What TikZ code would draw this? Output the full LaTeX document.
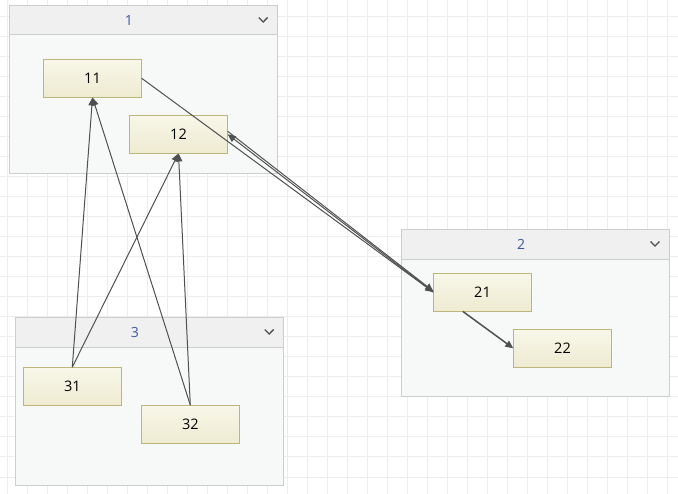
\documentclass[tikz,border=0pt]{standalone}
\usepackage{fontspec}
\setmainfont{Open Sans}
\usetikzlibrary{calc}
\usetikzlibrary{arrows.meta}
\definecolor{gridgray}{HTML}{EDEDED}
\definecolor{framegray}{HTML}{CDCDCD}
\definecolor{headgray}{HTML}{F0F0F0}
\definecolor{bodygray}{HTML}{F7F9F9}
\definecolor{itemtop}{HTML}{F8F7E9}
\definecolor{itembottom}{HTML}{EEEBD1}
\definecolor{itemline}{HTML}{BDB57A}
\definecolor{titleblue}{HTML}{3A5A9C}
\definecolor{linkgray}{HTML}{505050}
\tikzset{
  groupbox/.style={draw=framegray, fill=bodygray, line width=1pt},
  grouphead/.style={draw=framegray, fill=headgray, line width=1pt},
  grouptitle/.style={text=titleblue, font=\fontsize{14}{16}\selectfont},
  chevron/.style={draw=linkgray, line width=1.3pt},
  item/.style={draw=itemline, top color=itemtop, bottom color=itembottom,
    minimum width=98pt, minimum height=38pt, inner sep=0pt,
    font=\fontsize{14.5}{16}\selectfont},
  link/.style={draw=linkgray, line width=1pt, ->}
}

\begin{document}
\begin{tikzpicture}[x=1pt, y=-1pt, >={Triangle[length=8pt,width=7pt]}]
  \useasboundingbox (0,0) rectangle (678,494);
  % grid
  \foreach \x in {7,27,...,667} \draw[gridgray, line width=1pt] (\x,0) -- (\x,494);
  \foreach \y in {17,37,...,477} \draw[gridgray, line width=1pt] (0,\y) -- (678,\y);

  % group 1
  \draw[groupbox] (9.5,5.5) rectangle (277.5,173.5);
  \draw[grouphead] (9.5,5.5) rectangle (277.5,35);
  \node[grouptitle] (title1) at (129,20.5) {1};
  \draw[chevron] (258.8,17.5) -- (263.2,22) -- (267.6,17.5);

  % group 2
  \draw[groupbox] (401.5,229.5) rectangle (669.5,397);
  \draw[grouphead] (401.5,229.5) rectangle (669.5,259.5);
  \node[grouptitle] (title2) at (521,244.5) {2};
  \draw[chevron] (650.6,241.5) -- (655,246) -- (659.4,241.5);

  % group 3
  \draw[groupbox] (15.5,317.5) rectangle (283.5,485);
  \draw[grouphead] (15.5,317.5) rectangle (283.5,347.5);
  \node[grouptitle] (title3) at (135,332.5) {3};
  \draw[chevron] (264.8,329.5) -- (269.2,334) -- (273.6,329.5);

  % items
  \node[item] (n11) at (92.5,78.3) {11};
  \node[item] (n12) at (178.5,134.3) {12};
  \node[item] (n21) at (482.5,292.2) {21};
  \node[item] (n22) at (562.5,348.3) {22};
  \node[item] (n31) at (72.3,386.3) {31};
  \node[item] (n32) at (190.3,424.3) {32};

  % links
  \draw[link] (n31.north) -- (n11.south);
  \draw[link] (n31.north) -- (n12.south);
  \draw[link] (n32.north) -- (n11.south);
  \draw[link] (n32.north) -- (n12.south);
  \draw[link] (n11.east) -- (n21.west);
  \draw[link] ([yshift=3pt]n12.east) -- ([yshift=1pt]n21.west);
  \draw[link] (n21.west) -- (n12.east);
  \draw[link, line width=1.5pt] ($(n21.south west)!0.3!(n21.south east)$) -- (n22.west);
\end{tikzpicture}
\end{document}
